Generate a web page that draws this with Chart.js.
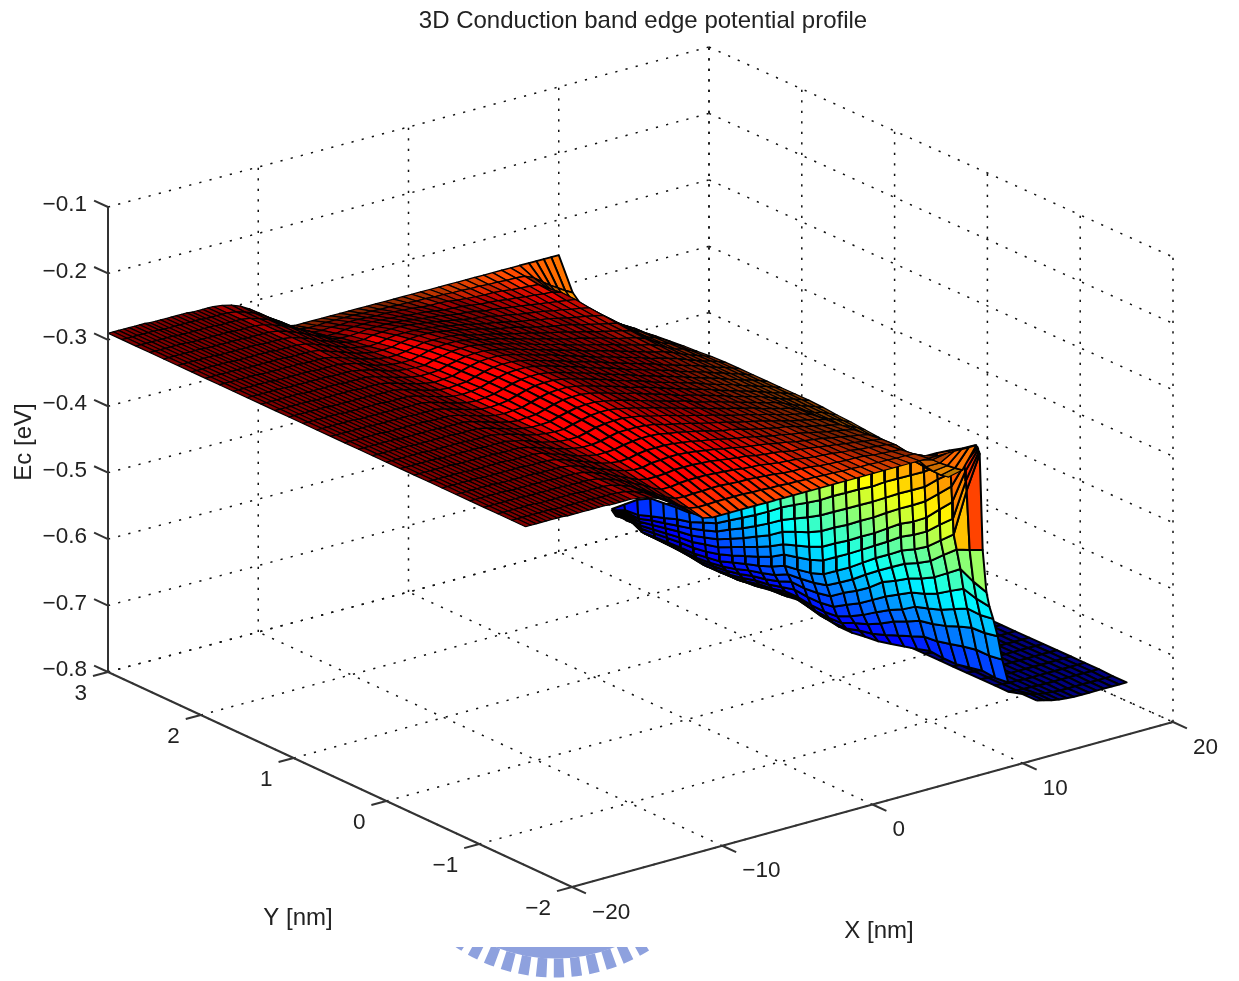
<!DOCTYPE html>
<html>

<head>
    <meta charset="utf-8">
    <title>3D Conduction band edge potential profile</title>
    <script src="https://cdn.jsdelivr.net/npm/chart.js@4/dist/chart.umd.min.js"></script>
    <style>
        html, body { margin: 0; background: #fff; }
        canvas { display: block; filter: blur(0.5px); }
    </style>
</head>

<body>
    <canvas id="surfaceChart" width="1239" height="981"></canvas>
    <script>
        const titleText = "3D Conduction band edge potential profile"
        const xTicks = [-20, -10, 0, 10, 20]
        const yTicks = [-2, -1, 0, 1, 2, 3]
        const zTicks = [-0.8, -0.7, -0.6, -0.5, -0.4, -0.3, -0.2, -0.1]

        const xTop = [-20, -19.65, -19.3, -18.95, -18.6, -18.25, -17.9, -17.55, -17.2, -16.85, -16.5, -16.15, -15.8, -15.45, -15.1, -14.75, -14.4, -14.05, -13.7, -13.35, -13, -12.4, -11.8, -11.2, -10.6, -10, -9.4, -8.8, -8.2, -7.6, -7, -6.4, -5.8, -5.2, -4.6, -4, -3.4, -2.8, -2.2, -1.6, -1, -0.4, 0.2, 0.8, 1.4, 2, 2.6, 3.2, 3.8, 4.4, 5, 5.6, 6.2, 6.8, 7.4, 8, 8.5, 9, 9.5, 10]
        const yTop = [-1.5, -1.35, -1.2, -1.05, -0.9, -0.75, -0.6, -0.45, -0.3, -0.15, 0, 0.15, 0.3, 0.45, 0.6, 0.75, 0.9, 1.05, 1.2, 1.35, 1.5, 1.65, 1.8, 1.95, 2.1, 2.25, 2.4, 2.55, 2.7, 2.85, 3]
        const zSource = [-290, -290, -290, -290, -290, -290, -290, -290, -291, -291, -291, -291, -291, -291, -291, -291, -292, -292, -292, -292, -292]
        const zRow0 = [-295, -299, -303, -307, -310, -311, -310, -308, -304, -300, -297, -296, -296, -298, -301, -305, -309, -313, -317, -322, -326, -330, -334, -339, -343, -347, -351, -355, -359, -364, -368, -372, -376, -381, -385, -389, -392, -396, -400]
        const zRow2 = [-295, -299, -303, -307, -310, -311, -310, -309, -305, -301, -298, -297, -297, -299, -302, -306, -310, -314, -318, -323, -326, -330, -334, -339, -343, -347, -351, -355, -359, -364, -368, -372, -376, -380, -385, -389, -392, -396, -400]
        const zRow3 = [-295, -299, -303, -307, -310, -312, -311, -310, -306, -302, -299, -298, -298, -300, -303, -307, -311, -315, -318, -323, -327, -331, -335, -340, -343, -347, -351, -355, -359, -364, -367, -371, -375, -380, -385, -389, -392, -396, -400]
        const zRow4 = [-295, -299, -303, -307, -310, -312, -312, -311, -307, -304, -301, -300, -300, -302, -305, -308, -312, -316, -320, -324, -328, -332, -335, -340, -344, -347, -351, -355, -359, -363, -367, -371, -374, -379, -385, -389, -393, -397, -401]
        const zRow5 = [-295, -298, -302, -307, -310, -312, -313, -313, -309, -306, -303, -302, -302, -304, -307, -310, -314, -317, -321, -325, -329, -333, -336, -341, -344, -348, -351, -355, -358, -363, -366, -370, -373, -378, -385, -390, -393, -398, -403]
        const zRow6 = [-295, -298, -303, -308, -311, -314, -315, -315, -312, -308, -306, -305, -305, -307, -309, -313, -316, -319, -323, -327, -330, -334, -337, -341, -345, -348, -351, -355, -358, -362, -366, -369, -372, -377, -385, -390, -394, -399, -404]
        const zRow7 = [-295, -299, -303, -308, -312, -315, -317, -317, -315, -312, -309, -309, -309, -310, -312, -316, -319, -322, -325, -329, -332, -335, -338, -342, -345, -348, -351, -355, -358, -362, -365, -368, -371, -375, -384, -391, -395, -400, -406]
        const zRow8 = [-294, -299, -303, -308, -313, -316, -319, -319, -318, -315, -313, -312, -312, -313, -316, -318, -321, -324, -327, -331, -334, -336, -339, -343, -346, -349, -352, -354, -357, -361, -364, -367, -370, -373, -382, -391, -396, -402, -408]
        const zRow9 = [-294, -298, -303, -308, -313, -318, -321, -323, -322, -319, -317, -317, -317, -318, -320, -322, -325, -327, -330, -333, -336, -338, -341, -344, -347, -349, -352, -354, -357, -360, -363, -365, -368, -371, -381, -392, -397, -403, -411]
        const zRow10 = [-294, -298, -303, -309, -314, -319, -323, -326, -326, -323, -322, -321, -321, -322, -324, -326, -328, -331, -333, -336, -338, -340, -342, -345, -347, -350, -352, -354, -356, -359, -361, -364, -366, -369, -380, -393, -399, -406, -414]
        const zRow11 = [-294, -298, -303, -309, -315, -321, -327, -330, -330, -329, -327, -327, -327, -328, -329, -331, -333, -335, -336, -339, -341, -342, -344, -347, -348, -350, -352, -354, -356, -358, -360, -362, -364, -366, -380, -394, -401, -409, -419]
        const zRow12 = [-294, -298, -303, -309, -316, -322, -330, -336, -336, -334, -333, -333, -333, -334, -335, -336, -338, -339, -340, -342, -344, -345, -346, -348, -350, -351, -352, -354, -355, -357, -358, -360, -361, -365, -380, -395, -404, -414, -422]
        const zRow13 = [-294, -298, -303, -311, -318, -326, -334, -340, -341, -340, -340, -339, -339, -340, -341, -341, -342, -343, -344, -346, -347, -347, -348, -350, -351, -352, -353, -353, -354, -356, -357, -358, -359, -368, -382, -395, -405, -414, -420]
        const zRow14 = [-294, -298, -303, -310, -319, -327, -337, -345, -347, -347, -346, -346, -346, -346, -347, -347, -348, -348, -349, -349, -350, -350, -351, -351, -352, -352, -353, -353, -354, -354, -355, -355, -356, -362, -372, -380, -387, -394, -400]
        const zRow15 = [-294, -297, -302, -310, -319, -329, -340, -350, -353, -353, -353, -353, -353, -353, -353, -353, -353, -353, -353, -353, -353, -353, -353, -353, -353, -353, -353, -353, -353, -353, -353, -353, -353, -353, -353, -353, -353, -353, -353]
        const zTop = [zRow15, zRow14, zRow13, zRow12, zRow11, zRow10, zRow9, zRow8, zRow7, zRow6, zRow5, zRow4, zRow3, zRow2, zRow0, zRow0, zRow0, zRow2, zRow3, zRow4, zRow5, zRow6, zRow7, zRow8, zRow9, zRow10, zRow11, zRow12, zRow13, zRow14, zRow15]
        // the sheet reads redder than its height away from the two long edges, more so on the far side
        const colourLift = [0, 0.01, 0.016, 0.02, 0.02, 0.02, 0.02, 0.02, 0.022, 0.024, 0.026, 0.028, 0.03, 0.03, 0.03, 0.035, 0.04, 0.045, 0.05, 0.05, 0.05, 0.05, 0.05, 0.05, 0.05, 0.05, 0.05, 0.05, 0.03, 0.012, 0]

        // wall under the drain side edge: x per row, y per column, Ec in meV
        const xWall = [8.5, 8.55, 8.6, 8.65, 8.7, 8.75, 8.8, 9, 9.25, 9.45, 9.7, 10, 10.3, 10.7]
        const yWall = [2.19, 2.05, 1.91, 1.77, 1.63, 1.49, 1.35, 1.21, 1.07, 0.93, 0.79, 0.65, 0.51, 0.37, 0.23, 0.09, -0.05, -0.19, -0.33, -0.47, -0.61, -0.75, -0.89, -1.03, -1.17, -1.31, -1.45, -1.59, -1.73]
        const zWall = [
            [-675, -659, -643, -632, -630, -628, -627, -621, -612, -598, -584, -569, -554, -539, -524, -510, -495, -480, -466, -452, -439, -424, -410, -396, -382, -368, -355, -343, -329],
            [-677, -668, -666, -659, -653, -646, -641, -633, -625, -612, -599, -586, -572, -557, -544, -532, -519, -504, -490, -476, -463, -447, -433, -419, -405, -388, -372, -350, -330],
            [-679, -671, -672, -666, -661, -656, -651, -645, -638, -626, -615, -603, -590, -576, -565, -554, -542, -528, -514, -500, -486, -471, -456, -442, -428, -408, -390, -357, -332],
            [-681, -674, -677, -673, -669, -665, -662, -656, -650, -640, -630, -619, -608, -594, -585, -577, -566, -552, -539, -524, -510, -494, -479, -465, -450, -430, -410, -368, -333],
            [-683, -677, -683, -680, -677, -674, -672, -667, -662, -653, -644, -635, -625, -613, -606, -599, -590, -576, -563, -548, -534, -518, -502, -490, -475, -454, -434, -379, -336],
            [-685, -680, -688, -686, -684, -682, -681, -678, -673, -666, -658, -650, -641, -629, -624, -619, -611, -597, -583, -568, -553, -538, -522, -510, -496, -477, -459, -393, -340],
            [-687, -683, -693, -692, -691, -690, -690, -687, -684, -677, -670, -664, -656, -646, -643, -639, -632, -618, -604, -588, -572, -558, -543, -532, -519, -501, -483, -408, -344],
            [-689, -686, -697, -697, -697, -697, -698, -696, -693, -688, -681, -676, -670, -660, -658, -655, -650, -637, -623, -607, -592, -578, -564, -554, -542, -524, -507, -499, -490],
            [-693, -691, -701, -701, -702, -702, -705, -703, -701, -697, -691, -687, -681, -673, -674, -672, -668, -654, -642, -628, -611, -600, -588, -579, -568, -553, -538, -548, -555],
            [-697, -695, -704, -705, -706, -708, -711, -710, -708, -704, -699, -696, -691, -686, -688, -688, -685, -673, -662, -648, -634, -622, -610, -603, -594, -581, -569, -575, -578],
            [-701, -699, -707, -708, -710, -712, -715, -715, -714, -711, -706, -704, -699, -699, -702, -703, -701, -692, -681, -668, -656, -646, -633, -627, -620, -610, -600, -601, -598],
            [-705, -703, -709, -711, -713, -715, -719, -719, -719, -716, -712, -710, -706, -708, -713, -714, -713, -704, -697, -687, -675, -666, -656, -652, -646, -638, -631, -630, -626],
            [-709, -708, -711, -713, -716, -719, -723, -724, -723, -721, -717, -716, -712, -716, -721, -723, -723, -717, -713, -706, -698, -690, -682, -680, -675, -670, -666, -666, -663],
            [-713, -713, -713, -716, -719, -722, -727, -728, -728, -726, -723, -722, -719, -723, -729, -732, -732, -729, -727, -722, -717, -712, -706, -708, -708, -704, -700, -702, -700]
        ]

        // low flat part behind the wall
        const xFlat = [14, 14.5, 15, 15.5, 16, 16.5, 17, 17.5, 18, 18.5, 19, 19.5, 20]
        const yFlat = [-1.5, -1.35, -1.2, -1.05, -0.9, -0.75, -0.6, -0.45, -0.3, -0.15, 0, 0.15, 1.5, 3]
        const zFlatFront = [-762, -765, -768, -770, -771, -772, -772, -772, -772, -772, -772, -772, -772]
        const zFlatBack = [-768, -769, -770, -770, -771, -771, -771, -771, -771, -771, -771, -771, -771]
        const zFlat = [zFlatFront, zFlatFront, zFlatBack, zFlatBack, zFlatBack, zFlatBack, zFlatBack, zFlatBack, zFlatBack, zFlatBack, zFlatBack, zFlatBack, zFlatBack, zFlatBack]

        const origin = { x: 572, y: 887 }          // x=-20, y=-2, z=-0.8
        const perX = { x: 15.025, y: -4.125 }      // per nm
        const perY = { x: -92.8, y: -43 }          // per nm
        const perZ = -664.3                        // per eV
        const cornerSag = 5                        // the far corner of the box sits this much low

        function project(x, y, z) {
            const u = x + 20, v = y + 2
            return {
                x: origin.x + u * perX.x + v * perY.x,
                y: origin.y + u * perX.y + v * perY.y + (z + 0.8) * perZ + cornerSag * (u / 40) * (v / 5)
            }
        }

        // jet colour map between the two Ec limits, dimmed where the mesh of the figure is too fine to show its colour
        function jet(z, bright) {
            const t = Math.min(1, Math.max(0, (z + 0.765) / 0.52))
            const band = c => Math.round(255 * bright * Math.min(1, Math.max(0, 1.5 - Math.abs(4 * t - c))))
            return `rgb(${band(3)},${band(2)},${band(1)})`
        }

        const painted = []

        function addCell(p, z, width, bright) {
            painted.push({
                data: p,
                showLine: true,
                fill: 'shape',
                backgroundColor: jet(z, bright),
                borderColor: '#000',
                borderWidth: width,
                borderJoinStyle: 'round',
                pointRadius: 0,
                tension: 0
            })
        }

        function addLine(a, b, color, width, dash) {
            painted.push({
                data: [project(...a), project(...b)],
                showLine: true,
                fill: false,
                borderColor: color,
                borderWidth: width,
                borderDash: dash || [],
                pointRadius: 0,
                tension: 0
            })
        }

        // dotted grid on the floor and the two back walls
        const dots = [2.2, 8.3]
        const dotColor = '#111'
        xTicks.forEach(x => {
            addLine([x, -2, -0.8], [x, 3, -0.8], dotColor, 1.5, dots)
            addLine([x, 3, -0.8], [x, 3, -0.1], dotColor, 1.5, dots)
        })
        yTicks.forEach(y => {
            addLine([-20, y, -0.8], [20, y, -0.8], dotColor, 1.5, dots)
            addLine([20, y, -0.8], [20, y, -0.1], dotColor, 1.5, dots)
        })
        zTicks.forEach(z => {
            addLine([-20, 3, z], [20, 3, z], dotColor, 1.5, dots)
            addLine([20, 3, z], [20, -2, z], dotColor, 1.5, dots)
        })

        function cellArea(p) {
            let s = 0
            for (let k = 0; k < 4; k++) s += p[k].x * p[k + 1].y - p[k + 1].x * p[k].y
            return Math.abs(s) / 2
        }

        // low flat part, far corner first
        for (let i = xFlat.length - 2; i >= 0; i--) {
            for (let j = yFlat.length - 2; j >= 0; j--) {
                const corners = [[i, j], [i + 1, j], [i + 1, j + 1], [i, j + 1], [i, j]]
                const p = corners.map(([a, b]) => project(xFlat[a], yFlat[b], zFlat[b][a] / 1000))
                addCell(p, zFlat[j][i] / 1000, 2, 1)
            }
        }

        // wall cells take the colour of their upper right corner, the thin left end reads darker
        for (let r = xWall.length - 2; r >= 0; r--) {
            for (let c = 0; c < yWall.length - 1; c++) {
                const corners = [[r, c], [r + 1, c], [r + 1, c + 1], [r, c + 1], [r, c]]
                const p = corners.map(([a, b]) => project(xWall[a], yWall[b], zWall[a][b] / 1000))
                const tone = zWall[r][c + 1] / 1000 - 0.05 * Math.max(0, 1 - c / 14)
                addCell(p, tone, 2, 1)
            }
        }

        // top sheet: the lines get heavier as cells grow, the fill dims as they shrink
        const zTopFull = zTop.map(row => [...zSource, ...row])
        for (let i = xTop.length - 2; i >= 0; i--) {
            for (let j = yTop.length - 2; j >= 0; j--) {
                const corners = [[i, j], [i + 1, j], [i + 1, j + 1], [i, j + 1], [i, j]]
                const p = corners.map(([a, b]) => project(xTop[a], yTop[b], zTopFull[b][a] / 1000))
                const mean = (zTopFull[j][i] + zTopFull[j][i + 1] + zTopFull[j + 1][i] + zTopFull[j + 1][i + 1]) / 4000
                const lift = (colourLift[j] + colourLift[j + 1]) / 2
                const area = cellArea(p)
                const width = Math.min(1.9, Math.max(1.2, area / 70))
                const bright = Math.min(1, Math.max(0.5, (area - 20) / 80))
                addCell(p, Math.min(-0.31, mean + lift), width, bright)
            }
        }

        // solid axes with their ticks
        const axisColor = '#333'
        addLine([-20, 3, -0.8], [-20, 3, -0.1], axisColor, 2)
        addLine([-20, 3, -0.8], [-20, -2, -0.8], axisColor, 2)
        addLine([-20, -2, -0.8], [20, -2, -0.8], axisColor, 2)
        zTicks.forEach(z => addLine([-20, 3, z], [-20, 3.15, z], axisColor, 2))
        yTicks.forEach(y => addLine([-20, y, -0.8], [-21, y, -0.8], axisColor, 2))
        xTicks.forEach(x => addLine([x, -2, -0.8], [x, -2.15, -0.8], axisColor, 2))

        const tickFont = '22.5px "Liberation Sans", Arial, sans-serif'
        const titleFont = '24px "Liberation Sans", Arial, sans-serif'
        const minus = v => String(v).replace('-', '\u2212')

        const textPlugin = {
            id: 'plotText',
            afterDraw(chart) {
                const { ctx, scales } = chart
                const px = p => ({ x: scales.x.getPixelForValue(p.x), y: scales.y.getPixelForValue(p.y) })
                ctx.save()
                ctx.fillStyle = '#222'
                ctx.font = tickFont
                ctx.textBaseline = 'middle'

                ctx.textAlign = 'right'
                zTicks.forEach(z => {
                    const p = px(project(-20, 3, z))
                    ctx.fillText(minus(z), p.x - 21, p.y - 2)
                })
                yTicks.forEach(y => {
                    const p = px(project(-20, y, -0.8))
                    ctx.fillText(minus(y), p.x - 21, p.y + 22)
                })
                ctx.textAlign = 'left'
                xTicks.forEach(x => {
                    const p = px(project(x, -2, -0.8))
                    ctx.fillText(minus(x), p.x + 20, p.y + 25.5)
                })

                ctx.font = titleFont
                ctx.textAlign = 'center'
                ctx.fillText(titleText, 643, 21)
                ctx.fillText('Y [nm]', 298, 918)
                ctx.fillText('X [nm]', 879, 931)
                ctx.translate(24, 442)
                ctx.rotate(-Math.PI / 2)
                ctx.fillText('Ec [eV]', 0, 0)
                ctx.restore()

                // cut-off seal at the foot of the page
                ctx.save()
                ctx.beginPath()
                ctx.rect(440, 947, 230, 34)
                ctx.clip()
                ctx.strokeStyle = '#8ea1de'
                ctx.lineWidth = 13
                ctx.beginPath()
                ctx.arc(555, 797, 155, 0, Math.PI)
                ctx.stroke()
                ctx.lineWidth = 19
                ctx.setLineDash([10, 7])
                ctx.beginPath()
                ctx.arc(555, 800, 168, 0, Math.PI)
                ctx.stroke()
                ctx.restore()
            }
        }

        // Chart.js paints the first dataset last
        const surfaceChart = new Chart(document.getElementById('surfaceChart').getContext('2d'), {
            type: 'scatter',
            data: { datasets: painted.reverse() },
            options: {
                responsive: false,
                animation: false,
                events: [],
                layout: { padding: 0 },
                plugins: { legend: { display: false }, tooltip: { enabled: false } },
                scales: {
                    x: { type: 'linear', min: 0, max: 1239, display: false },
                    y: { type: 'linear', min: 0, max: 981, reverse: true, display: false }
                }
            },
            plugins: [textPlugin]
        })
    </script>
</body>

</html>
